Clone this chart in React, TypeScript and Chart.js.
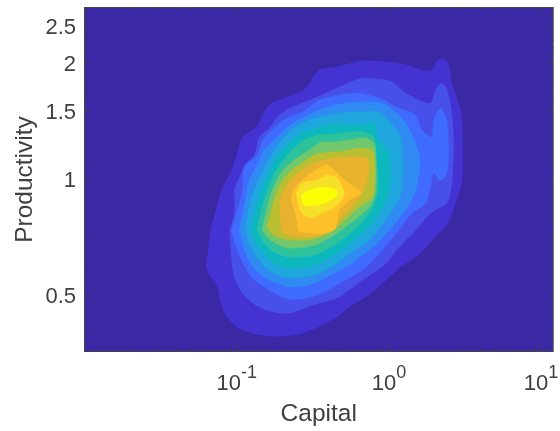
import React, { useEffect, useRef } from "react";
import { Chart, registerables } from "chart.js";

Chart.register(...registerables);

const capitalLimits = [0.0099, 12.08];
const productivityLimits = [0.356, 2.795];
const capitalMajor = [0.1, 1, 10];
const capitalExponents = ["-1", "0", "1"];
const capitalMinor = [0.02, 0.03, 0.04, 0.05, 0.06, 0.07, 0.08, 0.09, 0.2, 0.3, 0.4, 0.5, 0.6, 0.7, 0.8, 0.9, 2, 3, 4, 5, 6, 7, 8, 9];
const productivityMajor = [0.5, 1, 1.5, 2, 2.5];
const productivityMinor = [0.4, 0.6, 0.7, 0.8, 0.9, 1.1, 1.2, 1.3, 1.4, 1.6, 1.7, 1.8, 1.9, 2.1, 2.2, 2.3, 2.4, 2.6, 2.7];

const levelColors = ["#3B28A4", "#4433D2", "#4850EA", "#3F6BFF", "#2F8BF2", "#1FA6DC", "#0CB8BE", "#2EC29C", "#70C76C", "#B9BF30", "#E8B22E", "#FFC12A", "#F6E128", "#FBFF04"];

const level0Capital = [0.0099, 12.08, 12.08, 0.0099];
const level0Productivity = [0.356, 0.356, 2.795, 2.795];

const level1Capital = [0.0632, 0.0672, 0.0747, 0.0794, 0.0937, 0.101, 0.109, 0.1345, 0.15, 0.169, 0.2055, 0.277, 0.348, 0.45, 0.666, 1.0, 1.292, 1.75, 1.97, 2.06, 2.29, 2.47, 2.59, 2.79, 3.01, 3.05, 3.05, 3.01, 2.79, 2.55, 2.4, 1.97, 1.62, 1.163, 0.928, 0.74, 0.572, 0.424, 0.364, 0.269, 0.19, 0.1345, 0.104, 0.0869, 0.0794, 0.0747, 0.0662];
const level1Productivity = [0.591, 0.729, 0.856, 0.936, 1.068, 1.168, 1.285, 1.365, 1.483, 1.574, 1.622, 1.702, 1.918, 1.952, 2.025, 2.012, 1.976, 1.907, 1.94, 2.025, 2.047, 1.976, 1.774, 1.622, 1.448, 1.189, 1.055, 0.976, 0.882, 0.797, 0.76, 0.703, 0.643, 0.587, 0.541, 0.501, 0.471, 0.431, 0.418, 0.398, 0.391, 0.396, 0.41, 0.437, 0.471, 0.525, 0.564];

const level2Capital = [0.0896, 0.0966, 0.0966, 0.0966, 0.107, 0.1125, 0.1305, 0.141, 0.164, 0.185, 0.212, 0.269, 0.338, 0.471, 0.666, 0.822, 1.03, 1.292, 1.75, 1.913, 2.03, 2.22, 2.4, 2.55, 2.67, 2.63, 2.55, 2.4, 1.913, 1.5, 1.163, 0.928, 0.666, 0.471, 0.313, 0.212, 0.141, 0.109, 0.0966, 0.0923];
const level2Productivity = [0.737, 0.816, 0.898, 0.936, 1.036, 1.087, 1.154, 1.285, 1.357, 1.448, 1.51, 1.574, 1.632, 1.733, 1.827, 1.817, 1.795, 1.672, 1.574, 1.584, 1.702, 1.774, 1.702, 1.538, 1.262, 1.055, 0.936, 0.867, 0.821, 0.737, 0.666, 0.598, 0.547, 0.495, 0.471, 0.448, 0.465, 0.506, 0.557, 0.627];

const level3Capital = [0.0923, 0.1026, 0.109, 0.1125, 0.1365, 0.1452, 0.169, 0.212, 0.269, 0.348, 0.471, 0.636, 0.9, 1.111, 1.5, 1.645, 1.913, 1.97, 2.19, 2.4, 2.47, 2.36, 2.16, 1.97, 1.884, 1.75, 1.414, 1.163, 0.9, 0.707, 0.493, 0.313, 0.221, 0.164, 0.1247, 0.101];
const level3Productivity = [0.737, 0.846, 0.936, 1.074, 1.154, 1.24, 1.34, 1.44, 1.492, 1.603, 1.652, 1.672, 1.613, 1.538, 1.465, 1.34, 1.285, 1.422, 1.529, 1.422, 1.141, 1.012, 0.994, 1.036, 0.965, 0.867, 0.816, 0.737, 0.654, 0.591, 0.541, 0.495, 0.488, 0.515, 0.557, 0.654];

const level4Capital = [0.104, 0.114, 0.121, 0.1365, 0.152, 0.177, 0.212, 0.269, 0.348, 0.471, 0.666, 0.9, 1.163, 1.352, 1.572, 1.595, 1.5, 1.352, 1.078, 0.834, 0.572, 0.405, 0.299, 0.221, 0.164, 0.1305, 0.1125];
const level4Productivity = [0.737, 0.882, 0.994, 1.087, 1.189, 1.262, 1.357, 1.44, 1.51, 1.565, 1.584, 1.574, 1.465, 1.357, 1.168, 1.074, 0.936, 0.856, 0.76, 0.682, 0.605, 0.561, 0.531, 0.525, 0.547, 0.587, 0.654];

const level5Capital = [0.114, 0.121, 0.1305, 0.1475, 0.169, 0.199, 0.2385, 0.299, 0.405, 0.547, 0.686, 0.86, 1.03, 1.198, 1.235, 1.216, 1.111, 0.928, 0.74, 0.572, 0.437, 0.323, 0.221, 0.169, 0.1365, 0.121];
const level5Productivity = [0.737, 0.856, 0.936, 1.042, 1.154, 1.262, 1.357, 1.422, 1.465, 1.492, 1.492, 1.492, 1.397, 1.278, 1.12, 0.936, 0.856, 0.774, 0.695, 0.647, 0.598, 0.564, 0.554, 0.574, 0.624, 0.674];

const level6Capital = [0.1247, 0.1325, 0.1452, 0.164, 0.19, 0.231, 0.277, 0.348, 0.437, 0.547, 0.686, 0.798, 0.834, 1.0, 1.03, 1.0, 0.928, 0.762, 0.572, 0.437, 0.323, 0.221, 0.169, 0.1452, 0.1305];
const level6Productivity = [0.737, 0.831, 0.936, 1.042, 1.154, 1.262, 1.325, 1.365, 1.389, 1.381, 1.381, 1.397, 1.285, 1.168, 1.036, 0.936, 0.856, 0.76, 0.687, 0.635, 0.598, 0.587, 0.609, 0.654, 0.695];

const level7Capital = [0.1365, 0.1452, 0.159, 0.1797, 0.215, 0.277, 0.348, 0.437, 0.547, 0.686, 0.798, 0.834, 0.847, 0.798, 0.686, 0.572, 0.437, 0.323, 0.221, 0.177, 0.152];
const level7Productivity = [0.737, 0.831, 0.936, 1.042, 1.154, 1.262, 1.301, 1.309, 1.325, 1.325, 1.285, 1.101, 0.936, 0.856, 0.783, 0.729, 0.674, 0.635, 0.627, 0.647, 0.682];

const level8Capital = [0.1475, 0.1567, 0.1715, 0.196, 0.2385, 0.299, 0.359, 0.437, 0.547, 0.686, 0.798, 0.822, 0.822, 0.762, 0.656, 0.572, 0.437, 0.323, 0.221, 0.185, 0.159];
const level8Productivity = [0.737, 0.831, 0.936, 1.042, 1.12, 1.189, 1.247, 1.247, 1.262, 1.278, 1.24, 1.101, 0.936, 0.856, 0.807, 0.774, 0.716, 0.674, 0.662, 0.678, 0.707];

const level9Capital = [0.159, 0.1715, 0.188, 0.221, 0.269, 0.323, 0.405, 0.508, 0.636, 0.774, 0.81, 0.798, 0.774, 0.666, 0.572, 0.471, 0.376, 0.299, 0.221, 0.177];
const level9Productivity = [0.747, 0.856, 0.953, 1.042, 1.101, 1.154, 1.175, 1.182, 1.203, 1.189, 1.087, 0.936, 0.892, 0.856, 0.816, 0.76, 0.716, 0.695, 0.695, 0.712];

const level10Capital = [0.196, 0.193, 0.221, 0.257, 0.323, 0.437, 0.59, 0.718, 0.74, 0.686, 0.572, 0.485, 0.437, 0.364, 0.257, 0.215];
const level10Productivity = [0.737, 0.882, 0.982, 1.042, 1.101, 1.134, 1.141, 1.134, 1.074, 0.936, 0.846, 0.793, 0.737, 0.716, 0.707, 0.716];

const level11Capital = [0.257, 0.242, 0.228, 0.25, 0.308, 0.393, 0.508, 0.656, 0.547, 0.471, 0.444, 0.364];
const level11Productivity = [0.729, 0.821, 0.898, 0.965, 1.036, 1.087, 0.994, 0.925, 0.882, 0.831, 0.747, 0.724];

const level12Capital = [0.246, 0.269, 0.338, 0.393, 0.457, 0.508, 0.437, 0.376, 0.308, 0.265];
const level12Productivity = [0.92, 0.976, 0.994, 1.024, 1.006, 0.909, 0.846, 0.821, 0.793, 0.821];

const level13Capital = [0.265, 0.299, 0.376, 0.45, 0.457, 0.393, 0.333, 0.277];
const level13Productivity = [0.909, 0.936, 0.953, 0.936, 0.909, 0.872, 0.856, 0.856];

const levelCapital = [level0Capital, level1Capital, level2Capital, level3Capital, level4Capital, level5Capital, level6Capital, level7Capital, level8Capital, level9Capital, level10Capital, level11Capital, level12Capital, level13Capital];
const levelProductivity = [level0Productivity, level1Productivity, level2Productivity, level3Productivity, level4Productivity, level5Productivity, level6Productivity, level7Productivity, level8Productivity, level9Productivity, level10Productivity, level11Productivity, level12Productivity, level13Productivity];

const FONT = '"Liberation Sans", Arial, sans-serif';
const TEXT = "#404040";
const FRAME = "#444444";

const axesPlugin = {
  id: "matlabAxes",
  afterDraw(chart: any) {
    const { ctx, chartArea: a, scales } = chart;
    const { x, y } = scales;
    ctx.save();
    ctx.strokeStyle = FRAME;
    ctx.lineWidth = 1;
    const line = (x1: number, y1: number, x2: number, y2: number) => {
      ctx.beginPath();
      ctx.moveTo(x1, y1);
      ctx.lineTo(x2, y2);
      ctx.stroke();
    };
    const xTick = (v: number, len: number) => {
      const p = Math.round(x.getPixelForValue(v)) + 0.5;
      line(p, a.bottom, p, a.bottom - len);
      line(p, a.top, p, a.top + len);
    };
    const yTick = (v: number, len: number) => {
      const p = Math.round(y.getPixelForValue(v)) + 0.5;
      line(a.left, p, a.left + len, p);
      line(a.right, p, a.right - len, p);
    };
    capitalMajor.forEach((v) => xTick(v, 5));
    capitalMinor.forEach((v) => xTick(v, 2.5));
    productivityMajor.forEach((v) => yTick(v, 5));
    productivityMinor.forEach((v) => yTick(v, 2.5));
    ctx.strokeRect(a.left + 0.5, a.top + 0.5, a.right - a.left - 1, a.bottom - a.top - 1);

    ctx.fillStyle = TEXT;
    ctx.textBaseline = "alphabetic";
    ctx.textAlign = "left";
    capitalMajor.forEach((v, i) => {
      const base = "10";
      const exp = capitalExponents[i];
      ctx.font = `22px ${FONT}`;
      const bw = ctx.measureText(base).width;
      ctx.font = `18px ${FONT}`;
      const ew = ctx.measureText(exp).width;
      const left = x.getPixelForValue(v) - (bw + ew) / 2;
      ctx.font = `22px ${FONT}`;
      ctx.fillText(base, left, 389.5);
      ctx.font = `18px ${FONT}`;
      ctx.fillText(exp, left + bw, 378);
    });
    ctx.restore();
  },
};

export default function App() {
  const ref = useRef<HTMLCanvasElement>(null);
  useEffect(() => {
    if (!ref.current) return;
    const datasets = levelColors.map((color, i) => {
      const xs = levelCapital[i];
      const ys = levelProductivity[i];
      const pts = xs.map((v, j) => ({ x: v, y: ys[j] }));
      pts.push({ x: xs[0], y: ys[0] });
      return {
        label: `Level ${i}`,
        data: pts,
        showLine: true,
        fill: "shape",
        backgroundColor: color,
        borderColor: color,
        borderWidth: 0.5,
        pointRadius: 0,
        tension: i === 0 ? 0 : 0.25,
        order: levelColors.length - i,
      };
    });
    const chart = new Chart(ref.current, {
      type: "scatter",
      data: { datasets: datasets as any },
      plugins: [axesPlugin],
      options: {
        animation: false,
        responsive: false,
        layout: { padding: { top: 7, right: 6.5, left: 0, bottom: 0 } },
        plugins: { legend: { display: false }, tooltip: { enabled: false } },
        scales: {
          x: {
            type: "logarithmic",
            min: capitalLimits[0],
            max: capitalLimits[1],
            grid: { display: false },
            border: { display: false },
            afterBuildTicks(s: any) {
              s.ticks = capitalMajor.map((v) => ({ value: v, major: true }));
            },
            afterFit(s: any) {
              s.height = 79;
              s.paddingLeft = 0;
              s.paddingRight = 0;
            },
            ticks: { display: false, autoSkip: false },
            title: {
              display: true,
              text: "Capital",
              color: TEXT,
              font: { family: FONT, size: 24.5 },
              padding: { top: 0, bottom: 2 },
            },
          },
          y: {
            type: "logarithmic",
            min: productivityLimits[0],
            max: productivityLimits[1],
            grid: { display: false },
            border: { display: false },
            afterBuildTicks(s: any) {
              s.ticks = productivityMajor.map((v) => ({ value: v, major: true }));
            },
            afterFit(s: any) {
              s.width = 84;
              s.paddingTop = 0;
              s.paddingBottom = 0;
            },
            ticks: {
              autoSkip: false,
              color: TEXT,
              padding: 0,
              labelOffset: 2,
              font: { family: FONT, size: 22 },
              callback: (v: any) => String(v),
            },
            title: {
              display: true,
              text: "Productivity",
              color: TEXT,
              font: { family: FONT, size: 24.5 },
              padding: { top: 11, bottom: 0 },
            },
          },
        },
      } as any,
    });
    return () => chart.destroy();
  }, []);
  return (
    <div style={{ position: "fixed", left: 0, top: 0, width: 560, height: 431, background: "#fff" }}>
      <canvas ref={ref} width={560} height={431} style={{ display: "block" }} />
    </div>
  );
}
